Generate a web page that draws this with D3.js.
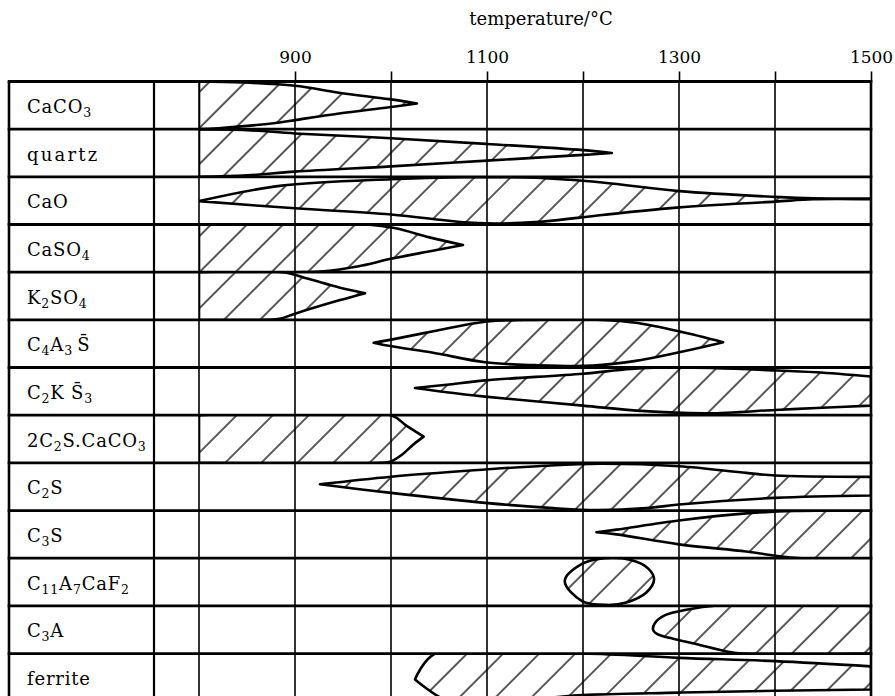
<!DOCTYPE html>
<html>
<head>
<meta charset="utf-8">
<script src="https://cdn.jsdelivr.net/npm/d3@7"></script>
<style>
  body { margin: 0; background: #fff; }
  svg { display: block; }
  svg text { font-family: "DejaVu Serif", serif; fill: #000; }
</style>
</head>
<body>
<div id="chart"></div>
<script>
// phases, top to bottom
const phases = ["CaCO3", "quartz", "CaO", "CaSO4", "K2SO4", "C4A3S", "C2KS3",
  "2C2S.CaCO3", "C2S", "C3S", "C11A7CaF2", "C3A", "ferrite"];

// label pieces: [text, subscript?]
const labelParts = [
  [["CaCO", 0], ["3", 1]],
  [["quartz", 0]],
  [["CaO", 0]],
  [["CaSO", 0], ["4", 1]],
  [["K", 0], ["2", 1], ["SO", 0], ["4", 1]],
  [["C", 0], ["4", 1], ["A", 0], ["3", 1], ["\u2009S\u0304", 0]],
  [["C", 0], ["2", 1], ["K S\u0304", 0], ["3", 1]],
  [["2C", 0], ["2", 1], ["S.CaCO", 0], ["3", 1]],
  [["C", 0], ["2", 1], ["S", 0]],
  [["C", 0], ["3", 1], ["S", 0]],
  [["C", 0], ["11", 1], ["A", 0], ["7", 1], ["CaF", 0], ["2", 1]],
  [["C", 0], ["3", 1], ["A", 0]],
  [["ferrite", 0]]
];

const tempTicks = [900, 1000, 1100, 1200, 1300, 1400, 1500];
const tickLabels = ["900", "", "1100", "", "1300", "", "1500"];
const gridTemps = [800, 900, 1000, 1100, 1200, 1300, 1400];

// existence fields: runs of [temperature, fraction of row height from top]
const fieldCaCO3 = [
  [[800, 0], [845, 0.02], [900, 0.09], [946, 0.235], [998, 0.37], [1027, 0.46]],
  [[1027, 0.46], [998, 0.54], [946, 0.67], [900, 0.81], [884, 0.86], [820, 0.98], [800, 1]]
];
const fieldQuartz = [
  [[800, 0], [850, 0.02], [900, 0.09], [1000, 0.19], [1100, 0.31], [1200, 0.44], [1230, 0.5]],
  [[1230, 0.5], [1200, 0.54], [1100, 0.66], [1000, 0.78], [900, 0.89], [850, 0.97], [800, 1]]
];
const fieldCaO = [
  [[800, 0.51], [884, 0.19], [1000, 0.05], [1075, 0.01], [1150, 0.02], [1220, 0.12],
    [1300, 0.30], [1400, 0.42], [1440, 0.45], [1500, 0.455]],
  [[1500, 0.47], [1440, 0.47], [1400, 0.52], [1300, 0.64], [1220, 0.80], [1150, 0.95],
    [1090, 0.97], [1000, 0.79], [900, 0.66], [800, 0.51]]
];
const fieldCaSO4 = [
  [[800, 0], [975, 0], [1005, 0.08], [1040, 0.27], [1075, 0.43]],
  [[1075, 0.43], [1038, 0.57], [1000, 0.72], [965, 0.88], [930, 0.98], [900, 1], [800, 1]]
];
const fieldK2SO4 = [
  [[800, 0], [887, 0], [914, 0.14], [946, 0.32], [973, 0.44]],
  [[973, 0.44], [946, 0.59], [900, 0.87], [884, 0.98], [870, 1], [800, 1]]
];
const fieldC4A3S = [
  [[982, 0.48], [999, 0.42], [1044, 0.24], [1098, 0.04], [1150, 0], [1220, 0], [1255, 0.06],
    [1300, 0.24], [1346, 0.47]],
  [[1346, 0.47], [1300, 0.68], [1255, 0.86], [1210, 0.96], [1150, 0.95], [1098, 0.89],
    [1044, 0.69], [999, 0.55], [982, 0.48]]
];
const fieldC2KS3 = [
  [[1025, 0.43], [1058, 0.36], [1098, 0.27], [1200, 0.13], [1250, 0.03], [1300, 0.0], [1400, 0.06],
    [1443, 0.10], [1500, 0.19]],
  [[1500, 0.80], [1443, 0.85], [1400, 0.89], [1330, 0.96], [1260, 0.91], [1200, 0.80],
    [1098, 0.61], [1058, 0.52], [1025, 0.43]]
];
const field2C2SCaCO3 = [
  [[800, 0], [1000, 0], [1016, 0.22], [1034, 0.45]],
  [[1034, 0.45], [1023, 0.62], [1012, 0.82], [1000, 0.97], [990, 1], [800, 1]]
];
const fieldC2S = [
  [[926, 0.45], [1000, 0.29], [1098, 0.14], [1160, 0.06], [1218, 0.02], [1300, 0.07],
    [1370, 0.21], [1400, 0.265], [1500, 0.295]],
  [[1500, 0.685], [1400, 0.735], [1300, 0.875], [1266, 0.95], [1215, 0.99], [1169, 0.95],
    [1098, 0.84], [1000, 0.63], [926, 0.45]]
];
const fieldC3S = [
  [[1214, 0.455], [1235, 0.40], [1300, 0.21], [1370, 0.06], [1420, 0.01], [1500, 0]],
  [[1500, 1], [1420, 0.99], [1370, 0.86], [1300, 0.71], [1235, 0.50], [1214, 0.455]]
];
const fieldC11A7 = [
  [[1181, 0.48], [1198, 0.13], [1222, 0.0], [1250, 0.04], [1268, 0.22], [1274, 0.45],
    [1266, 0.72], [1245, 0.93], [1225, 0.98], [1199, 0.90]]
];
const fieldC3A = [
  [[1500, 0], [1335, 0], [1311, 0.07], [1285, 0.2], [1275, 0.36], [1273, 0.5], [1278, 0.6],
    [1290, 0.67], [1311, 0.77], [1346, 0.94], [1365, 1], [1500, 1]]
];
const fieldFerrite = [
  [[1025, 0.545], [1046, 0], [1200, 0], [1300, 0.09], [1400, 0.16], [1500, 0.27]],
  [[1500, 0.755], [1400, 0.78], [1300, 0.82], [1200, 0.87], [1150, 0.95], [1100, 1.0],
    [1060, 1.0], [1025, 0.545]]
];

const fields = [fieldCaCO3, fieldQuartz, fieldCaO, fieldCaSO4, fieldK2SO4, fieldC4A3S, fieldC2KS3,
  field2C2SCaCO3, fieldC2S, fieldC3S, fieldC11A7, fieldC3A, fieldFerrite];
const fieldCurves = ["open", "open", "open", "open", "open", "open", "open",
  "open", "open", "open", "closed", "open", "open"];

const width = 895, height = 696;
const tableLeft = 9, labelRight = 154;

const svg = d3.select("#chart").append("svg")
  .attr("width", width)
  .attr("height", height);

svg.append("rect").attr("width", width).attr("height", height).attr("fill", "#fff");

const x = d3.scaleLinear().domain([800, 1500]).range([199, 871]);
const y = d3.scaleBand().domain(phases).range([81.5, 81.5 + 13 * 47.67]);
const rowH = y.bandwidth();

// hatch pattern
const defs = svg.append("defs");
defs.append("pattern")
  .attr("id", "hatch")
  .attr("patternUnits", "userSpaceOnUse")
  .attr("width", 25.5)
  .attr("height", 25.5)
  .attr("patternTransform", "rotate(45)")
  .append("line")
  .attr("x1", 2).attr("y1", -1)
  .attr("x2", 2).attr("y2", 26.5)
  .attr("stroke", "#000")
  .attr("stroke-width", 1.3);

phases.forEach((p, i) => {
  defs.append("clipPath")
    .attr("id", "clip" + i)
    .append("rect")
    .attr("x", x(800))
    .attr("y", y(p))
    .attr("width", x(1500) - x(800))
    .attr("height", rowH);
});

function fieldPath(runs, kind, top) {
  const px = d => [x(d[0]), top + d[1] * rowH];
  if (kind === "closed") {
    return d3.line().curve(d3.curveCatmullRomClosed.alpha(0.5))(runs[0].map(px));
  }
  let d = "";
  runs.forEach((run, i) => {
    const s = d3.line().curve(d3.curveCatmullRom.alpha(0.5))(run.map(px));
    d += i === 0 ? s : "L" + s.slice(1);
  });
  return d + "Z";
}

// fields
svg.append("g")
  .selectAll("path")
  .data(phases)
  .join("path")
  .attr("clip-path", (d, i) => `url(#clip${i})`)
  .attr("d", (d, i) => fieldPath(fields[i], fieldCurves[i], y(d)))
  .attr("fill", "url(#hatch)")
  .attr("stroke", "#000")
  .attr("stroke-width", 2.6)
  .attr("stroke-linejoin", "round");

const tableTop = y.range()[0], tableBottom = y.range()[1];

// vertical grid lines
svg.append("g")
  .selectAll("line")
  .data(gridTemps)
  .join("line")
  .attr("x1", d => x(d)).attr("x2", d => x(d))
  .attr("y1", tableTop).attr("y2", tableBottom)
  .attr("stroke", "#000")
  .attr("stroke-width", 1.6);

// label column divider and outer borders
svg.append("line")
  .attr("x1", labelRight).attr("x2", labelRight)
  .attr("y1", tableTop).attr("y2", tableBottom)
  .attr("stroke", "#000").attr("stroke-width", 2.2);
svg.append("line")
  .attr("x1", tableLeft).attr("x2", tableLeft)
  .attr("y1", tableTop).attr("y2", tableBottom)
  .attr("stroke", "#000").attr("stroke-width", 2.6);
svg.append("line")
  .attr("x1", x(1500)).attr("x2", x(1500))
  .attr("y1", tableTop).attr("y2", tableBottom)
  .attr("stroke", "#000").attr("stroke-width", 2.6);

// row lines
svg.append("g")
  .selectAll("line")
  .data(phases.map(p => y(p)).concat([tableBottom]))
  .join("line")
  .attr("x1", tableLeft - 1.3).attr("x2", x(1500) + 1.3)
  .attr("y1", d => d).attr("y2", d => d)
  .attr("stroke", "#000")
  .attr("stroke-width", (d, i) => i === 0 ? 3.2 : 2.8);

// top axis
const axis = svg.append("g")
  .attr("transform", `translate(0,${tableTop})`)
  .call(d3.axisTop(x)
    .tickValues(tempTicks)
    .tickSize(10)
    .tickPadding(9)
    .tickFormat((d, i) => tickLabels[i]));
axis.select(".domain").remove();
axis.attr("font-family", null).attr("font-size", null);
axis.selectAll(".tick line").attr("stroke", "#000").attr("stroke-width", 1.6);
axis.selectAll(".tick text")
  .style("font-family", "'DejaVu Serif', serif")
  .style("font-size", "17px")
  .attr("fill", "#000");

svg.append("text")
  .attr("x", 541)
  .attr("y", 24.5)
  .attr("text-anchor", "middle")
  .style("font-size", "18px")
  .text("temperature/\u00b0C");

// row labels
const labels = svg.append("g")
  .selectAll("text")
  .data(phases)
  .join("text")
  .attr("x", 27)
  .attr("y", d => y(d) + 31.5)
  .style("font-size", "18px")
  .attr("letter-spacing", (d, i) => i === 1 ? 2.2 : 0.8);

labels.each(function(d, i) {
  const t = d3.select(this);
  let shifted = false;
  labelParts[i].forEach(([s, sub]) => {
    const span = t.append("tspan").text(s);
    if (sub && !shifted) { span.attr("dy", 4).style("font-size", "12.5px"); shifted = true; }
    else if (sub) { span.style("font-size", "12.5px"); }
    else if (shifted) { span.attr("dy", -4); shifted = false; }
  });
});
</script>
</body>
</html>
